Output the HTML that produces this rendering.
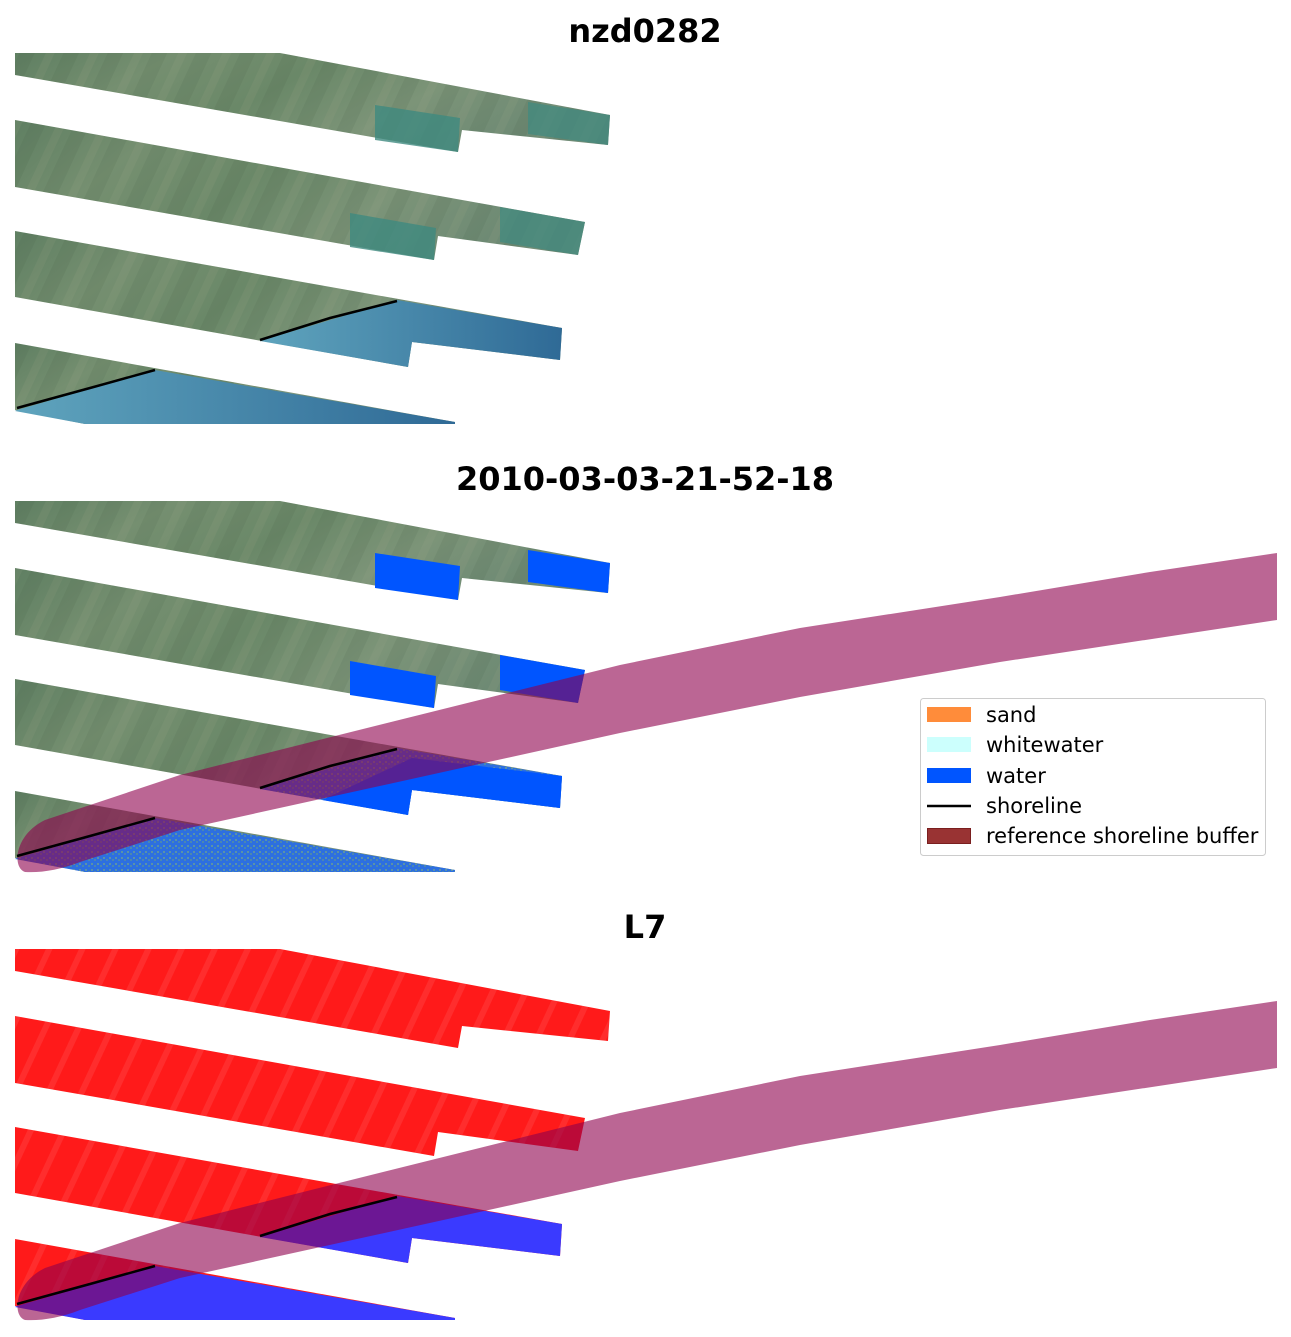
<!DOCTYPE html>
<html><head><meta charset="utf-8"><style>
html,body{margin:0;padding:0;background:#fff;}
svg{display:block;}
text{font-family:"DejaVu Sans","Liberation Sans",sans-serif;}
</style></head><body>
<svg width="1291" height="1337" viewBox="0 0 1291 1337" xmlns="http://www.w3.org/2000/svg">
<defs>
<linearGradient id="land" x1="0" y1="0" x2="1" y2="0.3">
<stop offset="0" stop-color="#5f7f62"/><stop offset="0.25" stop-color="#758f70"/>
<stop offset="0.5" stop-color="#6a8868"/><stop offset="0.75" stop-color="#7c9478"/><stop offset="1" stop-color="#6e8a74"/>
</linearGradient>
<pattern id="ridges" width="40" height="60" patternUnits="userSpaceOnUse" patternTransform="rotate(25)">
<rect width="40" height="60" fill="none"/>
<rect x="0" width="14" height="60" fill="#3f5d45" opacity="0.12"/>
<rect x="24" width="8" height="60" fill="#b0b89a" opacity="0.1"/>
</pattern>
<linearGradient id="sea" x1="0" y1="0" x2="1" y2="0">
<stop offset="0" stop-color="#5fa4bd"/><stop offset="1" stop-color="#2f6a96"/>
</linearGradient>
<pattern id="red" width="30" height="40" patternUnits="userSpaceOnUse" patternTransform="rotate(25)">
<rect width="30" height="40" fill="#ff1a1a"/>
<rect x="4" width="6" height="40" fill="#ff4848" opacity="0.4"/>
</pattern>
<pattern id="speck" width="6" height="6" patternUnits="userSpaceOnUse">
<rect width="6" height="6" fill="#2d6fe0"/>
<rect x="1" y="1" width="2" height="2" fill="#5a93a8"/>
<rect x="4" y="3" width="2" height="2" fill="#4a88b0"/>
</pattern>
<g id="strips">
<polygon points="15,53 280,53 610,115 608,145 462,130 458,152 15,75"/>
<polygon points="15,120 585,222 578,255 438,236 434,260 15,187"/>
<polygon points="15,231 562,328 560,360 412,342 408,367 15,297"/>
<polygon points="15,343 455,422 455,424 85,424 15,410"/>
</g>
<path id="band" d="M25,872 C12,868 14,835 45,820 L180,775 L327,738 L620,665 L800,628 L1000,597 L1150,572 L1277,553 L1277,620 L1000,662 L800,697 L620,733 L180,830 L80,862 C60,870 40,873 25,872 Z"/>
</defs>

<text x="645" y="42" font-size="32" font-weight="bold" text-anchor="middle">nzd0282</text>
<text x="645" y="490" font-size="32" font-weight="bold" text-anchor="middle">2010-03-03-21-52-18</text>
<text x="645" y="938" font-size="32" font-weight="bold" text-anchor="middle">L7</text>

<!-- Panel 1 -->
<g>
<use href="#strips" fill="url(#land)"/>
<use href="#strips" fill="url(#ridges)"/>
<polygon points="260,341 397,300 562,328 560,360 412,342 408,367 260,341" fill="url(#sea)"/>
<polygon points="17,410 155,370 455,422 455,424 85,424 15,411" fill="url(#sea)"/>
<polygon points="375,105 460,118 458,152 375,140" fill="#3f8a80" opacity="0.8"/>
<polygon points="528,102 610,115 608,145 528,134" fill="#3f8a80" opacity="0.7"/>
<polygon points="350,213 436,228 434,260 350,247" fill="#3f8a80" opacity="0.8"/>
<polygon points="500,207 585,222 578,255 500,242" fill="#3f8a80" opacity="0.7"/>
<polyline points="260,340 330,318 397,301" stroke="#000" stroke-width="2.5" fill="none"/>
<polyline points="17,408 90,388 155,370" stroke="#000" stroke-width="2.5" fill="none"/>
</g>

<!-- Panel 2 -->
<g transform="translate(0,448)">
<use href="#strips" fill="url(#land)"/>
<use href="#strips" fill="url(#ridges)"/>
<polygon points="260,341 397,300 562,328 560,360 412,342 408,367 260,341" fill="url(#speck)"/>
<polygon points="412,310 562,328 560,360 412,342 408,367 322,352" fill="#0055ff"/>
<polygon points="17,410 155,370 455,422 455,424 85,424 15,411" fill="url(#speck)"/>
<polygon points="375,105 460,118 458,152 375,140" fill="#0055ff"/>
<polygon points="528,102 610,115 608,145 528,134" fill="#0055ff"/>
<polygon points="350,213 436,228 434,260 350,247" fill="#0055ff"/>
<polygon points="500,207 585,222 578,255 500,242" fill="#0055ff"/>
<use href="#band" transform="translate(0,-448)" fill="rgb(142,0,77)" fill-opacity="0.6"/>
<polyline points="260,340 330,318 397,301" stroke="#000" stroke-width="2.5" fill="none"/>
<polyline points="17,408 90,388 155,370" stroke="#000" stroke-width="2.5" fill="none"/>
</g>

<!-- Panel 3 -->
<g transform="translate(0,896)">
<use href="#strips" fill="url(#red)"/>
<polygon points="260,341 397,300 562,328 560,360 412,342 408,367 260,341" fill="#3a3aff"/>
<polygon points="17,410 155,370 455,422 455,424 85,424 15,411" fill="#3a3aff"/>
<use href="#band" transform="translate(0,-448)" fill="rgb(142,0,77)" fill-opacity="0.6"/>
<polyline points="260,340 330,318 397,301" stroke="#000" stroke-width="2.5" fill="none"/>
<polyline points="17,408 90,388 155,370" stroke="#000" stroke-width="2.5" fill="none"/>
</g>

<!-- Legend -->
<rect x="920.5" y="698.5" width="345" height="157" rx="3" fill="#fff" stroke="#ccc" stroke-width="1"/>
<rect x="927" y="707" width="44" height="15" fill="#ff8c3a"/>
<rect x="927" y="737" width="44" height="15" fill="#ccfffd"/>
<rect x="927" y="768" width="44" height="15" fill="#0055ff"/>
<line x1="927" y1="806" x2="971" y2="806" stroke="#000" stroke-width="2.5"/>
<rect x="927.5" y="828.5" width="43" height="15" fill="#993333" stroke="#7a1f1f"/>
<g font-size="21" fill="#000">
<text x="986" y="722">sand</text>
<text x="986" y="752">whitewater</text>
<text x="986" y="783">water</text>
<text x="986" y="813">shoreline</text>
<text x="986" y="843">reference shoreline buffer</text>
</g>
</svg>
</body></html>
